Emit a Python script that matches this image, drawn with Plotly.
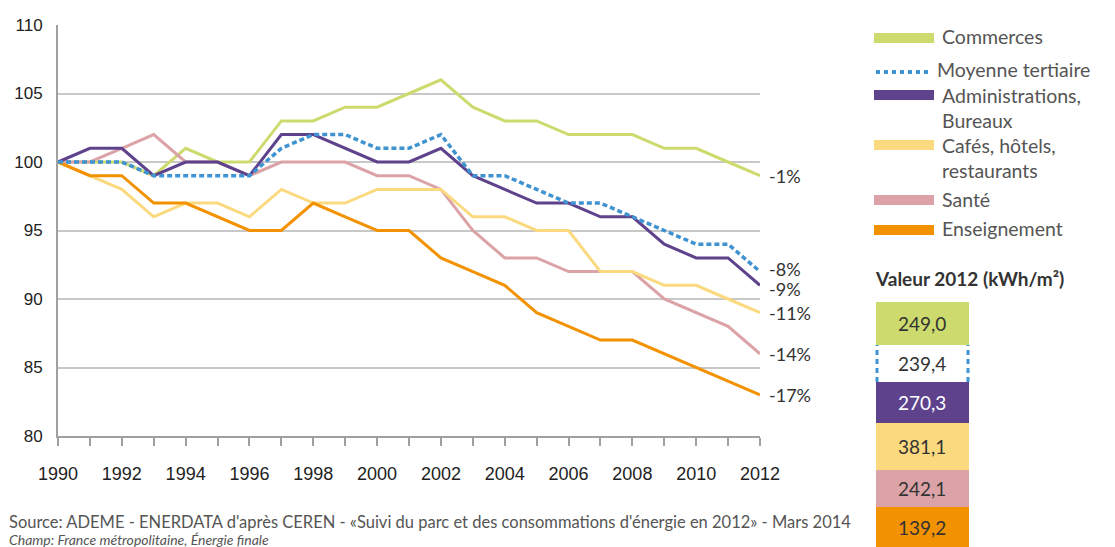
import plotly.graph_objects as go

years = list(range(1990, 2013))

commerces = [100, 100, 100, 99, 101, 100, 100, 103, 103, 104, 104, 105, 106, 104, 103, 103, 102, 102, 102, 101, 101, 100, 99]
moyenne = [100, 100, 100, 99, 99, 99, 99, 101, 102, 102, 101, 101, 102, 99, 99, 98, 97, 97, 96, 95, 94, 94, 92]
administrations = [100, 101, 101, 99, 100, 100, 99, 102, 102, 101, 100, 100, 101, 99, 98, 97, 97, 96, 96, 94, 93, 93, 91]
cafes = [100, 99, 98, 96, 97, 97, 96, 98, 97, 97, 98, 98, 98, 96, 96, 95, 95, 92, 92, 91, 91, 90, 89]
sante = [100, 100, 101, 102, 100, 100, 99, 100, 100, 100, 99, 99, 98, 95, 93, 93, 92, 92, 92, 90, 89, 88, 86]
enseignement = [100, 99, 99, 97, 97, 96, 95, 95, 97, 96, 95, 95, 93, 92, 91, 89, 88, 87, 87, 86, 85, 84, 83]

legend_names = ["Commerces", "Moyenne tertiaire", "Administrations,<br>Bureaux",
                "Cafés, hôtels,<br>restaurants", "Santé", "Enseignement"]
values_2012 = ["249,0", "239,4", "270,3", "381,1", "242,1", "139,2"]

C_GREEN = "#cddb6e"
C_BLUE = "#3f93d0"
C_PURPLE = "#5e428c"
C_YELLOW = "#fbd97f"
C_PINK = "#dba3a7"
C_ORANGE = "#f39200"

series = [
    ("Commerces", commerces, C_GREEN, "solid", 3),
    ("Santé", sante, C_PINK, "solid", 3),
    ("Cafés, hôtels, restaurants", cafes, C_YELLOW, "solid", 3),
    ("Enseignement", enseignement, C_ORANGE, "solid", 3),
    ("Administrations, Bureaux", administrations, C_PURPLE, "solid", 3),
    ("Moyenne tertiaire", moyenne, C_BLUE, "5px,3px", 3.5),
]
# small vertical nudges (px) so the close end labels do not overlap
label_nudge = {"Moyenne tertiaire": 3, "Administrations, Bureaux": -4}

fig = go.Figure()
for name, vals, col, dash, w in series:
    fig.add_trace(go.Scatter(x=years, y=vals, mode="lines", name=name,
                             line=dict(color=col, width=w, dash=dash),
                             showlegend=False, hoverinfo="x+y+name"))

W, H = 1115, 547
L, R, T, B = 58, 355, 25, 111
PW, PH = W - L - R, H - T - B


def px(x):
    return (x - L) / PW


def py(y):
    return (H - B - y) / PH


annotations = []
shapes = []

TXT = "Lato"
for name, vals, col, dash, w in series:
    pct = vals[-1] - 100
    annotations.append(dict(x=2012, y=vals[-1], xref="x", yref="y", text=f"{pct}%",
                            showarrow=False, xanchor="left", yanchor="middle", xshift=7,
                            yshift=label_nudge.get(name, 0),
                            font=dict(family=TXT, size=18, color="#333333")))

# manual legend
legend_cols = [C_GREEN, C_BLUE, C_PURPLE, C_YELLOW, C_PINK, C_ORANGE]
legend_y = [38, 70, 95, 145, 200, 230]
for nm, col, yy in zip(legend_names, legend_cols, legend_y):
    if col == C_BLUE:
        shapes.append(dict(type="line", xref="paper", yref="paper",
                           x0=px(876), x1=px(930), y0=py(yy + 2), y1=py(yy + 2),
                           line=dict(color=col, width=4, dash="dot")))
        tx = 935
    else:
        shapes.append(dict(type="rect", xref="paper", yref="paper",
                           x0=px(874), x1=px(934), y0=py(yy - 5), y1=py(yy + 5),
                           fillcolor=col, line=dict(width=0)))
        tx = 940
    annotations.append(dict(x=px(tx), y=py(yy - 1), xref="paper", yref="paper", text=nm,
                            showarrow=False, xanchor="left", yanchor="top" if "<br>" in nm else "middle",
                            yshift=12 if "<br>" in nm else 0, align="left",
                            font=dict(family=TXT, size=19.5, color="#555555")))

annotations.append(dict(x=px(873), y=py(278), xref="paper", yref="paper",
                        text="<b>Valeur 2012 (kWh/m²)</b>", showarrow=False,
                        xanchor="left", yanchor="middle",
                        font=dict(family=TXT, size=19, color="#333333")))

# value boxes
box_edges = [302, 345, 382, 423, 470, 507, 552]
box_cols = [C_GREEN, "#ffffff", C_PURPLE, C_YELLOW, C_PINK, C_ORANGE]
for i, (val, col) in enumerate(zip(values_2012, box_cols)):
    y0, y1 = box_edges[i], box_edges[i + 1]
    shapes.append(dict(type="rect", xref="paper", yref="paper",
                       x0=px(876), x1=px(969), y0=py(y1), y1=py(y0),
                       fillcolor=col, line=dict(width=0), layer="below"))
    if col == "#ffffff":
        for xx in (877, 968):
            shapes.append(dict(type="line", xref="paper", yref="paper",
                               x0=px(xx), x1=px(xx), y0=py(y1), y1=py(y0),
                               line=dict(color=C_BLUE, width=3, dash="5px,4px")))
    annotations.append(dict(x=px(922.5), y=py((y0 + min(y1, 547)) / 2), xref="paper", yref="paper",
                            text=val, showarrow=False, xanchor="center", yanchor="middle",
                            font=dict(family=TXT, size=19,
                                      color="#ffffff" if col == C_PURPLE else "#333333")))

# source notes
annotations.append(dict(x=px(7), y=py(522), xref="paper", yref="paper",
                        text="Source: ADEME - ENERDATA d'après CEREN - «Suivi du parc et des consommations d'énergie en 2012» - Mars 2014",
                        showarrow=False, xanchor="left", yanchor="middle",
                        font=dict(family=TXT, size=16.5, color="#555555")))
annotations.append(dict(x=px(7), y=py(539), xref="paper", yref="paper",
                        text="<i>Champ: France métropolitaine, Énergie finale</i>",
                        showarrow=False, xanchor="left", yanchor="middle",
                        font=dict(family=TXT, size=14, color="#555555")))

fig.update_layout(
    width=W, height=H,
    margin=dict(l=L, r=R, t=T, b=B, pad=0, autoexpand=False),
    paper_bgcolor="white", plot_bgcolor="white",
    showlegend=False,
    annotations=annotations,
    shapes=shapes,
    xaxis=dict(range=[1990, 2012], dtick=2, tick0=1990, showgrid=False, zeroline=False,
               showline=True, linecolor="#a0a0a0", linewidth=2, automargin=False,
               ticks="outside", ticklen=8, tickwidth=2, tickcolor="#a0a0a0",
               minor=dict(dtick=1, ticks="outside", ticklen=8, tickwidth=2, tickcolor="#a0a0a0", showgrid=False),
               ticklabelstandoff=12,
               tickfont=dict(family="Liberation Sans, Arial", size=18, color="#222222")),
    yaxis=dict(range=[80, 110], dtick=5, showgrid=True, gridcolor="#c8c8c8", gridwidth=1.5,
               zeroline=False, showline=True, linecolor="#a0a0a0", linewidth=2, automargin=False,
               ticks="", ticklabelstandoff=10,
               tickfont=dict(family="Liberation Sans, Arial", size=17, color="#222222")),
)

fig.write_html("out.html", config={"displayModeBar": False},
               post_script="document.body.style.margin='0px';")
